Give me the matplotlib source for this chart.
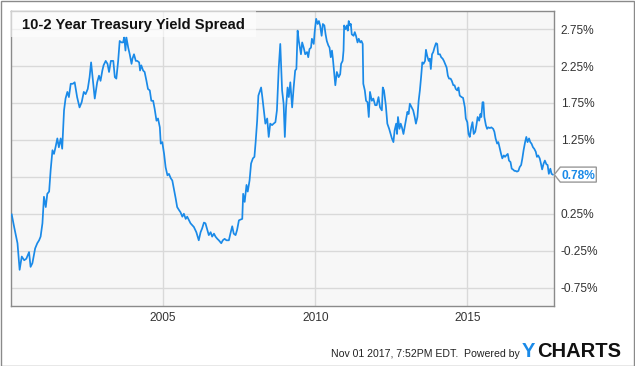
import numpy as np
import matplotlib
matplotlib.use('Agg')
import matplotlib.pyplot as plt
from matplotlib.patches import Rectangle, Polygon

# decimal year, spread in percent
years = [
    2000.02, 2000.10, 2000.21, 2000.28, 2000.35, 2000.43, 2000.50, 2000.59, 2000.64, 2000.70,
    2000.79, 2000.86, 2000.92, 2000.97, 2001.03, 2001.08, 2001.14, 2001.19, 2001.25, 2001.30,
    2001.36, 2001.41, 2001.46, 2001.52, 2001.57, 2001.63, 2001.68, 2001.74, 2001.79, 2001.85,
    2001.90, 2001.96, 2002.03, 2002.09, 2002.17, 2002.25, 2002.32, 2002.39, 2002.45, 2002.52,
    2002.58, 2002.63, 2002.69, 2002.75, 2002.83, 2002.89, 2002.94, 2003.00,
    2003.04, 2003.11, 2003.17, 2003.22, 2003.28, 2003.36, 2003.41, 2003.46, 2003.52, 2003.57,
    2003.63, 2003.68, 2003.72, 2003.76, 2003.79, 2003.85, 2003.90, 2003.96, 2003.99, 2004.04,
    2004.10, 2004.15, 2004.21, 2004.24, 2004.28, 2004.34, 2004.39, 2004.45, 2004.50, 2004.56,
    2004.61, 2004.67, 2004.72, 2004.78, 2004.83, 2004.89, 2004.92, 2004.97, 2005.03, 2005.08,
    2005.14, 2005.19, 2005.25, 2005.30, 2005.36, 2005.41, 2005.46, 2005.52, 2005.57, 2005.63,
    2005.68, 2005.74, 2005.79, 2005.85, 2005.90,
    2006.01, 2006.09, 2006.17, 2006.23, 2006.28, 2006.34, 2006.39, 2006.45, 2006.50, 2006.56,
    2006.61, 2006.67, 2006.72, 2006.78, 2006.83, 2006.91, 2006.96, 2007.02, 2007.08, 2007.16,
    2007.21, 2007.27, 2007.32, 2007.38, 2007.43, 2007.49, 2007.54, 2007.60, 2007.63, 2007.68,
    2007.74, 2007.78, 2007.84, 2007.89, 2007.95, 2008.00, 2008.04, 2008.09, 2008.13, 2008.17,
    2008.22, 2008.26, 2008.31, 2008.36, 2008.42, 2008.47, 2008.52, 2008.58, 2008.63, 2008.69,
    2008.74, 2008.80,
    2008.85, 2008.91, 2008.96, 2009.00, 2009.04, 2009.09, 2009.13, 2009.18, 2009.24, 2009.29,
    2009.34, 2009.38, 2009.42, 2009.46, 2009.53, 2009.57, 2009.62, 2009.67, 2009.73, 2009.77,
    2009.81, 2009.86, 2009.89, 2009.95, 2009.98, 2010.03, 2010.08, 2010.12, 2010.16, 2010.21,
    2010.25, 2010.30, 2010.34, 2010.38, 2010.43, 2010.47, 2010.51, 2010.55, 2010.58, 2010.62,
    2010.66, 2010.71, 2010.77, 2010.82, 2010.85, 2010.90, 2010.93, 2010.95, 2011.00, 2011.04,
    2011.07, 2011.10, 2011.14, 2011.17, 2011.20, 2011.26, 2011.30, 2011.34, 2011.39, 2011.43,
    2011.48, 2011.52, 2011.56, 2011.58, 2011.63, 2011.67, 2011.72, 2011.76, 2011.80,
    2011.86, 2011.91, 2011.97, 2012.02, 2012.08, 2012.13, 2012.19, 2012.22, 2012.26, 2012.32,
    2012.37, 2012.43, 2012.48, 2012.52, 2012.57, 2012.61, 2012.66, 2012.69, 2012.72, 2012.77,
    2012.81, 2012.85, 2012.90, 2012.94, 2012.98, 2013.03, 2013.07, 2013.11, 2013.17, 2013.22,
    2013.27, 2013.31, 2013.36, 2013.40, 2013.44, 2013.48, 2013.52, 2013.56, 2013.61, 2013.64,
    2013.68, 2013.73, 2013.77, 2013.80, 2013.84, 2013.88, 2013.92, 2013.97, 2014.01, 2014.04,
    2014.10, 2014.14, 2014.19, 2014.23, 2014.27, 2014.32, 2014.36, 2014.40, 2014.45, 2014.49,
    2014.54, 2014.58, 2014.62, 2014.67, 2014.71, 2014.75,
    2014.81, 2014.86, 2014.92, 2014.95, 2015.00, 2015.04, 2015.08, 2015.13, 2015.17, 2015.21,
    2015.26, 2015.30, 2015.34, 2015.39, 2015.43, 2015.46, 2015.50, 2015.53, 2015.56, 2015.61,
    2015.65, 2015.69, 2015.74, 2015.79, 2015.85, 2015.89, 2015.93, 2015.98, 2016.02, 2016.07,
    2016.11, 2016.15, 2016.20, 2016.24, 2016.28, 2016.33, 2016.37, 2016.42, 2016.46, 2016.50,
    2016.55, 2016.59, 2016.63, 2016.68, 2016.72, 2016.77, 2016.81, 2016.85, 2016.90, 2016.94,
    2016.98, 2017.03, 2017.07, 2017.11, 2017.16, 2017.20, 2017.25, 2017.29, 2017.33, 2017.38,
    2017.42, 2017.46, 2017.51, 2017.55, 2017.60, 2017.64, 2017.68, 2017.73, 2017.77, 2017.81,
]
spread = [
    0.24, 0.07, -0.15, -0.51, -0.33, -0.38, -0.36, -0.27, -0.47, -0.42,
    -0.22, -0.15, -0.11, -0.06, 0.12, 0.48, 0.34, 0.52, 0.55, 0.84,
    1.11, 1.06, 1.15, 1.27, 1.15, 1.27, 1.13, 1.65, 1.81, 1.90,
    1.83, 2.01, 2.01, 2.03, 1.83, 1.69, 1.76, 1.90, 1.87, 1.94,
    2.10, 2.30, 2.05, 1.81, 2.03, 2.12, 2.05, 2.19,
    2.26, 2.32, 2.28, 2.17, 2.32, 2.32, 2.10, 2.08, 2.32, 2.59,
    2.57, 2.57, 2.64, 2.46, 2.64, 2.50, 2.41, 2.28, 2.35, 2.41,
    2.32, 2.32, 2.30, 2.19, 2.26, 2.19, 2.17, 2.05, 1.94, 1.92,
    1.78, 1.78, 1.67, 1.51, 1.54, 1.42, 1.20, 1.22, 1.06, 0.88,
    0.77, 0.79, 0.73, 0.70, 0.57, 0.46, 0.34, 0.30, 0.27, 0.21,
    0.25, 0.18, 0.21, 0.16, 0.12,
    0.07, 0.00, -0.11, 0.00, 0.05, 0.13, 0.12, 0.03, -0.04, 0.00,
    -0.06, -0.02, -0.06, -0.09, -0.11, -0.15, -0.11, -0.09, -0.11, -0.11,
    -0.02, 0.08, -0.02, -0.04, 0.03, 0.16, 0.17, 0.18, 0.52, 0.41,
    0.64, 0.55, 0.70, 0.93, 1.00, 1.02, 1.22, 1.51, 1.85, 1.90,
    1.96, 1.83, 1.65, 1.47, 1.54, 1.29, 1.47, 1.45, 1.47, 1.49,
    1.65, 2.23,
    2.55, 1.92, 1.74, 1.29, 1.69, 1.96, 1.83, 2.03, 1.69, 1.96,
    2.19, 2.21, 2.73, 2.59, 2.41, 2.57, 2.50, 2.41, 2.44, 2.37,
    2.48, 2.50, 2.62, 2.55, 2.71, 2.89, 2.82, 2.86, 2.80, 2.66,
    2.82, 2.80, 2.68, 2.59, 2.53, 2.50, 2.37, 2.46, 2.35, 2.17,
    1.99, 2.17, 2.10, 2.14, 2.28, 2.32, 2.46, 2.80, 2.75, 2.80,
    2.73, 2.86, 2.80, 2.82, 2.68, 2.66, 2.71, 2.66, 2.57, 2.62,
    2.57, 2.59, 2.55, 2.01, 1.92, 1.78, 1.76, 1.56, 1.90,
    1.78, 1.81, 1.72, 1.72, 1.83, 1.69, 1.65, 1.96, 1.92, 1.72,
    1.47, 1.40, 1.33, 1.27, 1.22, 1.38, 1.47, 1.33, 1.56, 1.40,
    1.47, 1.42, 1.33, 1.42, 1.51, 1.63, 1.60, 1.74, 1.69, 1.65,
    1.56, 1.47, 1.56, 1.78, 1.92, 2.10, 2.30, 2.28, 2.32, 2.47,
    2.39, 2.32, 2.35, 2.21, 2.41, 2.44, 2.50, 2.56, 2.55, 2.41,
    2.41, 2.37, 2.35, 2.32, 2.28, 2.23, 2.12, 2.08, 2.08, 2.05,
    1.99, 1.99, 1.94, 1.92, 1.96, 1.85,
    1.83, 1.82, 1.69, 1.54, 1.49, 1.33, 1.29, 1.42, 1.49, 1.33,
    1.36, 1.45, 1.56, 1.51, 1.60, 1.56, 1.76, 1.76, 1.56, 1.45,
    1.40, 1.42, 1.41, 1.42, 1.40, 1.36, 1.27, 1.20, 1.22, 1.13,
    1.06, 1.00, 1.04, 1.02, 1.04, 1.06, 0.97, 0.95, 0.86, 0.85,
    0.83, 0.83, 0.82, 0.83, 0.88, 0.91, 1.00, 1.11, 1.22, 1.29,
    1.22, 1.27, 1.22, 1.20, 1.15, 1.13, 1.09, 1.02, 1.04, 1.00,
    0.93, 0.85, 0.93, 0.97, 0.92, 0.91, 0.79, 0.86, 0.79, 0.78,
]
y_ticks = [-0.75, -0.25, 0.25, 0.75, 1.25, 1.75, 2.25, 2.75]
x_ticks = [2005, 2010, 2015]
title = '10-2 Year Treasury Yield Spread'
footer = 'Nov 01 2017, 7:52PM EDT.  Powered by'

LINE = '#1a8ae8'
plt.rcParams['font.family'] = ['Liberation Sans', 'DejaVu Sans']

W, H = 635, 366
fig = plt.figure(figsize=(W / 100, H / 100), dpi=100)
fig.patch.set_facecolor('white')
ax = fig.add_axes([10.5 / W, 1 - 306 / H, 543.8 / W, 295.3 / H])
ax.set_facecolor('#f7f7f7')

ax.plot(years, spread, color=LINE, lw=1.25, zorder=3)
ax.set_xlim(1999.98, 2017.86)
ax.set_ylim(-1.0, 3.0)

ax.set_yticks(y_ticks)
ax.set_yticklabels(['' if t == 0.75 else '%.2f%%' % t for t in y_ticks])
ax.set_xticks(x_ticks)
ax.set_xticklabels([str(t) for t in x_ticks])
ax.yaxis.tick_right()
ax.tick_params(axis='both', length=0, labelsize=8.6, colors='#333333')
ax.tick_params(axis='y', pad=4.5)
ax.tick_params(axis='x', pad=4)
ax.grid(True, color='#d9d9d9', lw=1)
ax.set_axisbelow(True)
for s in ax.spines.values():
    s.set_color('#8a8a8a')
    s.set_linewidth(1)

# title box
ax.add_patch(Rectangle((0, 0.912), 0.451, 0.088, transform=ax.transAxes,
                       facecolor='white', alpha=0.6, edgecolor='none', zorder=4))
ax.text(0.0206, 0.938, title, transform=ax.transAxes, fontsize=10.6,
        fontweight='bold', color='#111111', va='baseline', zorder=5)

# last value marker box
fig.canvas.draw()
last = spread[-1]
px, py = ax.transData.transform((ax.get_xlim()[1], last))
box = np.array([[px, py], [px + 6, py + 7.5], [px + 42, py + 7.5],
                [px + 42, py - 7.5], [px + 6, py - 7.5]])
fig.add_artist(Polygon(fig.transFigure.inverted().transform(box), closed=True,
                       transform=fig.transFigure, facecolor='white',
                       edgecolor='#999999', lw=1))
tx, ty = fig.transFigure.inverted().transform((px + 24, py))
fig.text(tx, ty, '%.2f%%' % last, color=LINE, fontsize=8.6, fontweight='bold',
         ha='center', va='center_baseline')

# footer
fig.text(520 / W, 1 - 357 / H, footer, fontsize=7.6, color='#222222', ha='right', va='baseline')
fig.text(522 / W, 1 - 357 / H, 'Y', fontsize=14.5, color=LINE, fontweight='bold', va='baseline')
fig.text(537 / W, 1 - 357 / H, 'CHARTS', fontsize=14.5, color='#111111', fontweight='bold', va='baseline')

# outer border
fig.add_artist(Rectangle((0.5 / W, 0.5 / H), (W - 1.5) / W, (H - 1.5) / H,
                         transform=fig.transFigure, fill=False, edgecolor='#8a8a8a', lw=1))

fig.savefig('out.png', dpi=100)
